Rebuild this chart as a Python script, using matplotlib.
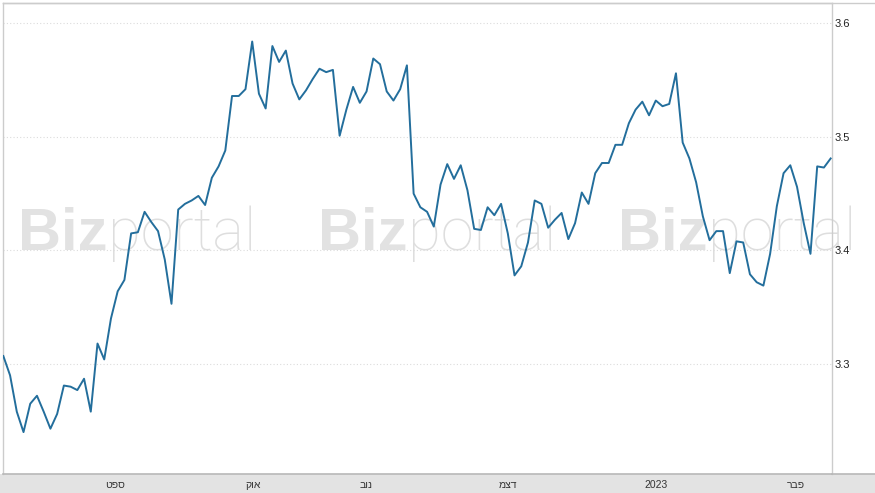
import matplotlib
matplotlib.use("Agg")
import matplotlib.pyplot as plt
from matplotlib.lines import Line2D
from matplotlib.patches import Rectangle

plt.rcParams['font.family'] = ['Liberation Sans', 'DejaVu Sans']

# daily values
prices = [
    3.307, 3.290, 3.258, 3.240, 3.265, 3.272, 3.258, 3.243, 3.256, 3.281,
    3.280, 3.277, 3.287, 3.258, 3.318, 3.304, 3.340, 3.364, 3.374, 3.415,
    3.416, 3.434, 3.425, 3.417, 3.392, 3.353, 3.436, 3.441, 3.444, 3.448,
    3.440, 3.464, 3.474, 3.488, 3.536, 3.536, 3.542, 3.584, 3.538, 3.525,
    3.580, 3.566, 3.576, 3.547, 3.533, 3.541, 3.551, 3.560, 3.557, 3.559,
    3.501, 3.524, 3.544, 3.530, 3.540, 3.569, 3.564, 3.540, 3.532, 3.542,
    3.563, 3.450, 3.438, 3.434, 3.421, 3.458, 3.476, 3.463, 3.475, 3.453,
    3.419, 3.418, 3.438, 3.431, 3.441, 3.415, 3.378, 3.386, 3.407, 3.444,
    3.441, 3.420, 3.427, 3.433, 3.410, 3.424, 3.451, 3.441, 3.468, 3.477,
    3.477, 3.493, 3.493, 3.512, 3.524, 3.531, 3.519, 3.532, 3.527, 3.529,
    3.556, 3.495, 3.481, 3.460, 3.430, 3.409, 3.417, 3.417, 3.380, 3.408,
    3.407, 3.379, 3.372, 3.369, 3.397, 3.439, 3.468, 3.475, 3.456, 3.424,
    3.397, 3.474, 3.473, 3.481,
]
days = list(range(len(prices)))

# month labels (Hebrew, right-to-left) and where they sit on the day axis
month_labels = ['ספט', 'אוק', 'נוב', 'דצמ', '2023', 'פבר']
month_pos = [16.6, 37.1, 54.0, 75.0, 97.1, 117.9]
y_ticks = [3.3, 3.4, 3.5, 3.6]

W, H = 875, 493
fig = plt.figure(figsize=(W / 100, H / 100), dpi=100)
fig.patch.set_facecolor('white')

# grey band at the bottom (behind the axes so the labels stay on top)
fig.patches.append(Rectangle((0, 0), 1, 19 / H, transform=fig.transFigure,
                             facecolor='#e3e3e3', edgecolor='none', zorder=-1))

ax = fig.add_axes([3 / W, 19 / H, 829 / W, 471 / H])
ax.patch.set_alpha(0)
ax.plot(days, prices, color='#236e9c', lw=1.4, zorder=3)

ax.set_xlim(-0.05, 123.2)
ax.set_ylim(3.2031, 3.6179)

ax.yaxis.tick_right()
ax.set_yticks(y_ticks)
ax.set_yticklabels([f'{t:.1f}' for t in y_ticks], fontsize=8, color='#222222')
ax.tick_params(axis='y', length=0, pad=1.5)
ax.yaxis.grid(True, linestyle=(0, (1, 2)), color='#dcdcdc', lw=0.8)

# matplotlib has no bidi, so hebrew strings are reversed for display
ax.set_xticks(month_pos)
ax.set_xticklabels([s if s.isdigit() else s[::-1] for s in month_labels],
                   fontsize=7.5, color='#333333')
ax.tick_params(axis='x', length=0, pad=4)

for side in ['left', 'top', 'right']:
    ax.spines[side].set_color('#cccccc')
    ax.spines[side].set_linewidth(1.0)
ax.spines['bottom'].set_color('#b8b8b8')
ax.spines['bottom'].set_linewidth(1.2)

# lines continuing into the right margin
fig.lines.append(Line2D([3 / W, 1], [1 - 3 / H, 1 - 3 / H], transform=fig.transFigure,
                        color='#cccccc', lw=1.0))
fig.lines.append(Line2D([832 / W, 1], [19 / H, 19 / H], transform=fig.transFigure,
                        color='#b8b8b8', lw=1.2))

# Bizportal watermark, three times
for x0 in [18, 318, 618]:
    ax.text(x0 / W, 1 - 250 / H, 'Biz', transform=fig.transFigure, fontsize=43,
            fontweight='bold', color='#e2e2e2', ha='left', va='baseline', zorder=1,
            family=['Liberation Sans'])
    ax.text((x0 + 90) / W, 1 - 250 / H, 'portal', transform=fig.transFigure, fontsize=43,
            fontweight='light', color='#dedede', ha='left', va='baseline', zorder=1,
            family=['Roboto', 'Open Sans', 'DejaVu Sans'])

fig.savefig('out.png', dpi=100, facecolor='white')
